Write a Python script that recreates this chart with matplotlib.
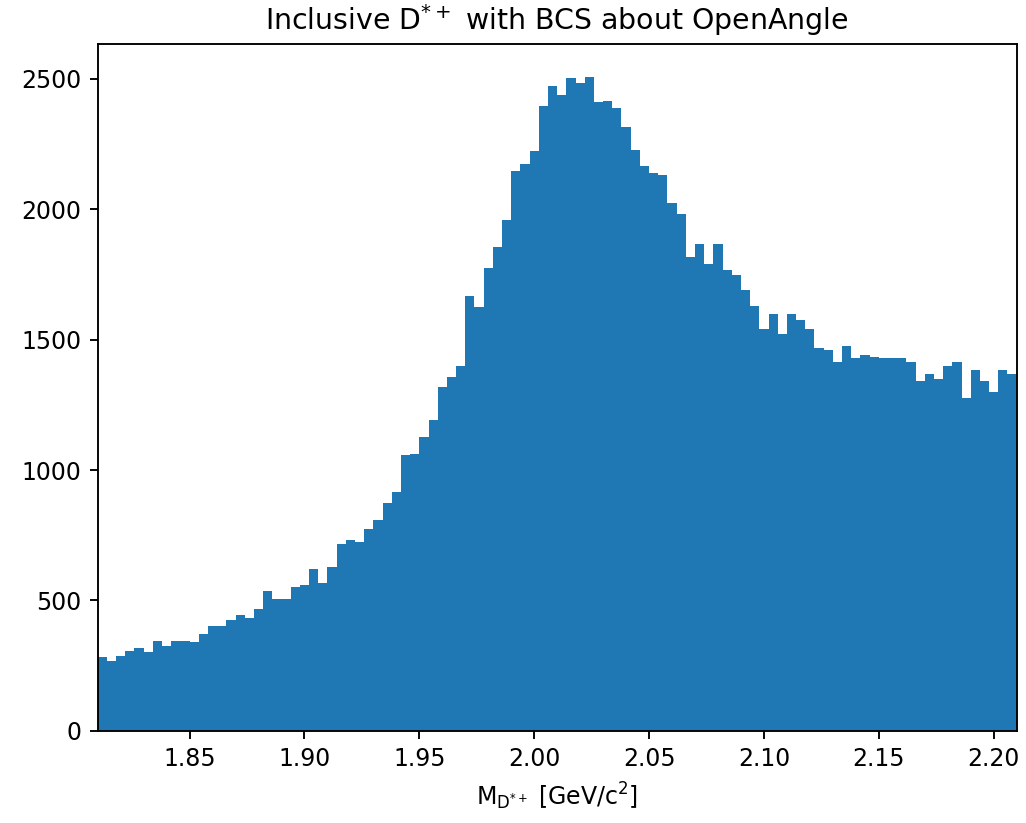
import numpy as np
import matplotlib.pyplot as plt

# D*+ candidate invariant mass, 100 bins of 4 MeV
bin_edges = np.linspace(1.81, 2.21, 101)
counts = np.array([
    282, 269, 288, 304, 317, 303, 345, 325, 345, 345,
    340, 373, 402, 402, 423, 445, 431, 466, 537, 507,
    507, 551, 558, 622, 566, 630, 716, 730, 724, 773,
    808, 872, 914, 1057, 1063, 1128, 1193, 1320, 1356, 1399,
    1669, 1627, 1775, 1855, 1960, 2146, 2175, 2224, 2396, 2475,
    2440, 2502, 2483, 2509, 2410, 2416, 2387, 2317, 2227, 2168,
    2139, 2133, 2025, 1983, 1819, 1867, 1791, 1866, 1769, 1747,
    1689, 1628, 1542, 1598, 1521, 1598, 1577, 1542, 1470, 1462,
    1414, 1476, 1428, 1442, 1434, 1428, 1428, 1428, 1413, 1343,
    1370, 1351, 1399, 1413, 1278, 1384, 1342, 1298, 1384, 1370,
])
bin_centers = 0.5 * (bin_edges[:-1] + bin_edges[1:])

dpi = 170
fig = plt.figure(figsize=(1026 / dpi, 823 / dpi), dpi=dpi)
ax = fig.add_axes([0.0952, 0.1121, 0.8957, 0.8345])

ax.hist(bin_centers, bins=bin_edges, weights=counts, color="#1f77b4")
ax.set_xlim(bin_edges[0], bin_edges[-1])
ax.set_xticks([1.85, 1.90, 1.95, 2.00, 2.05, 2.10, 2.15, 2.20])
ax.set_xticklabels(["1.85", "1.90", "1.95", "2.00", "2.05", "2.10", "2.15", "2.20"])

ax.set_title(r"Inclusive D$^{*+}$ with BCS about OpenAngle")
ax.set_xlabel(r"M$_{\mathrm{D}^{*+}}$ [GeV/c$^2$]")

fig.savefig("out.png", dpi=dpi)
